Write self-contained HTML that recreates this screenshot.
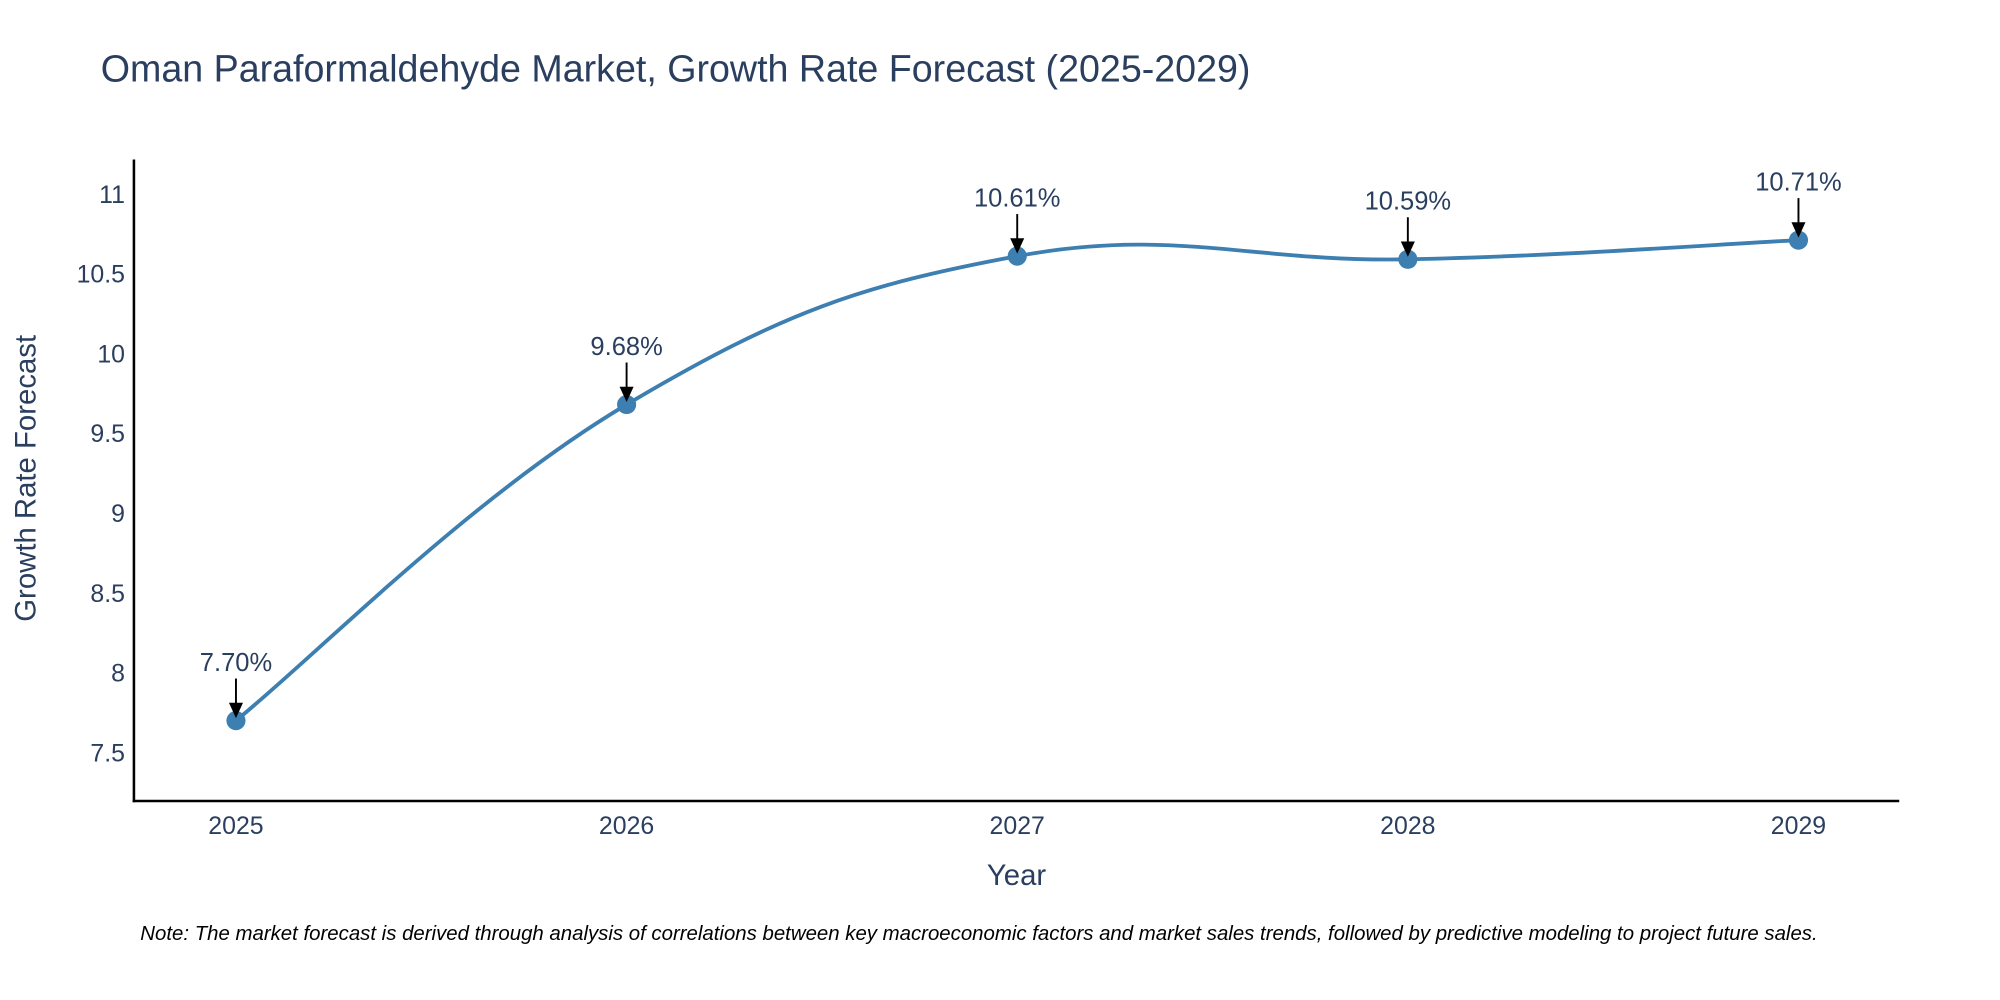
<!DOCTYPE html>
<html><head><meta charset="utf-8"><style>
html,body{margin:0;padding:0;background:#fff;overflow:hidden;}
svg{display:block;font-family:"Liberation Sans",sans-serif;}
</style></head><body>
<svg id="chart" width="2000" height="1000" viewBox="0 0 1568 784" preserveAspectRatio="none">
<text x="79" y="64" font-size="29.5" fill="#2a3f5f">Oman Paraformaldehyde Market, Growth Rate Forecast (2025-2029)</text>
<g id="plot"></g>
<line x1="105" y1="125" x2="105" y2="629" stroke="#000" stroke-width="2"/>
<line x1="104" y1="628" x2="1489" y2="628" stroke="#000" stroke-width="2"/>
<text transform="translate(28,375) rotate(-90)" text-anchor="middle" font-size="23" fill="#2a3f5f">Growth Rate Forecast</text>
<text x="797" y="694" text-anchor="middle" font-size="23" fill="#2a3f5f">Year</text>
<text x="110" y="737" font-size="16" font-style="italic" fill="#000">Note: The market forecast is derived through analysis of correlations between key macroeconomic factors and market sales trends, followed by predictive modeling to project future sales.</text>
</svg>
<script>
const years = ["2025","2026","2027","2028","2029"];
const growth = [7.70, 9.68, 10.61, 10.59, 10.71];
const labels = ["7.70%","9.68%","10.61%","10.59%","10.71%"];
const yTicks = [7.5, 8, 8.5, 9, 9.5, 10, 10.5, 11];
const yTickLabels = ["7.5","8","8.5","9","9.5","10","10.5","11"];

const NS="http://www.w3.org/2000/svg";
const g=document.getElementById('plot');
const xScale=i=>185+i*306.25;
const yScale=v=>590-(v-7.5)*(438/3.5);
function mk(t,a){const e=document.createElementNS(NS,t);for(const k in a)e.setAttribute(k,a[k]);g.appendChild(e);return e;}
yTicks.forEach((v,i)=>{const t=mk('text',{x:98,y:yScale(v)+7,'text-anchor':'end','font-size':19.5,fill:'#2a3f5f'});


t.textContent=yTickLabels[i];});
years.forEach((y,i)=>{const t=mk('text',{x:xScale(i),y:654,'text-anchor':'middle','font-size':19.5,fill:'#2a3f5f'});


t.textContent=y;});
const pts=growth.map((v,i)=>[xScale(i),yScale(v)]);
let d='M'+pts[0].join(',');const s=0.2;
for(let i=0;i<pts.length-1;i++){const p0=pts[Math.max(0,i-1)],p1=pts[i],p2=pts[i+1],p3=pts[Math.min(pts.length-1,i+2)];
d+=' C'+(p1[0]+(p2[0]-p0[0])*s)+','+(p1[1]+(p2[1]-p0[1])*s)+' '+(p2[0]-(p3[0]-p1[0])*s)+','+(p2[1]-(p3[1]-p1[1])*s)+' '+p2[0]+','+p2[1];}
const ln=mk('path',{d:d,fill:'none',stroke:'#3d7fb0','stroke-width':3});


pts.forEach((p,i)=>{const c=mk('circle',{cx:p[0],cy:p[1],r:7.5,fill:'#3d7fb0'});


const a=mk('line',{x1:p[0],y1:p[1]-33,x2:p[0],y2:p[1]-12,stroke:'#000','stroke-width':1.5});


const h=mk('polygon',{points:(p[0]-5.5)+','+(p[1]-14)+' '+(p[0]+5.5)+','+(p[1]-14)+' '+p[0]+','+(p[1]-2),fill:'#000'});


const t=mk('text',{x:p[0],y:p[1]-39,'text-anchor':'middle','font-size':20,fill:'#2a3f5f'});


t.textContent=labels[i];});
</script>
</body></html>
